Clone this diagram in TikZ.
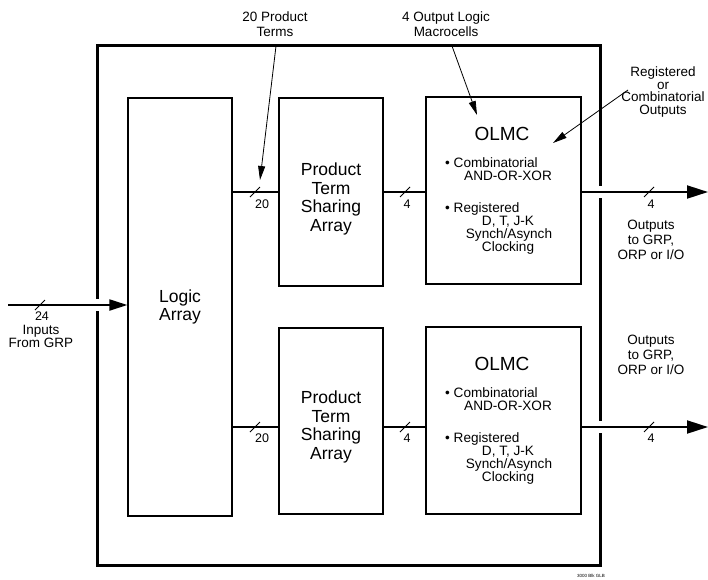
\documentclass[tikz,border=0pt]{standalone}
\usepackage{fontspec}
\setmainfont{Liberation Sans}
\usetikzlibrary{arrows.meta}
\begin{document}
\begin{tikzpicture}[x=1pt,y=-1pt,
  box/.style={draw, line width=1.3pt, inner sep=0pt},
  outer/.style={draw, line width=3pt},
  bus/.style={line width=2pt},
  busarrow/.style={bus, -{Triangle[length=21pt,width=13pt]}},
  inarrow/.style={bus, -{Triangle[length=18pt,width=11pt]}},
  ptr/.style={line width=0.8pt, -{Triangle[length=14pt,width=7pt]}},
  slash/.style={line width=0.9pt},
  lbl/.style={font=\fontsize{13.5}{15}\selectfont, align=center, inner sep=0pt},
  big/.style={font=\fontsize{17.5}{18.5}\selectfont, align=center, inner sep=0pt},
  title/.style={font=\fontsize{19}{20}\selectfont, inner sep=0pt},
  body/.style={font=\fontsize{13.6}{13}\selectfont, inner sep=0pt},
  num/.style={font=\fontsize{12.5}{13}\selectfont, inner sep=0pt}
]
\useasboundingbox (0,0) rectangle (708,579);

% outer frame
\draw[outer] (97,45) rectangle (600,565);
\fill[white] (94,299) rectangle (100,311);
\fill[white] (597,186) rectangle (603,198);
\fill[white] (597,421) rectangle (603,433);

% blocks
\node[box, minimum width=104pt, minimum height=418pt, big] (la) at (180,307) {Logic\\Array};
\node[box, minimum width=104pt, minimum height=188pt] (pt1) at (331,192) {};
\node[box, minimum width=104pt, minimum height=186pt] (pt2) at (331,421) {};
\node[big] (pt1t) at (331,199) {Product\\Term\\Sharing\\Array};
\node[big] (pt2t) at (331,427) {Product\\Term\\Sharing\\Array};
\node[box, minimum width=155pt, minimum height=187pt] (ol1) at (503.5,190.5) {};
\node[box, minimum width=155pt, minimum height=187pt] (ol2) at (503.5,420.5) {};

% OLMC texts (top)
\node[title, anchor=base] (o1n) at (502,140) {OLMC};
\node[body, anchor=base west] (o1a) at (445,167) {\textbullet\ Combinatorial};
\node[body, anchor=base] (o1b) at (508,180) {AND-OR-XOR};
\node[body, anchor=base west] (o1c) at (445,212) {\textbullet\ Registered};
\node[body, anchor=base] (o1d) at (508,225) {D, T, J-K};
\node[body, anchor=base] (o1e) at (509,238) {Synch/Asynch};
\node[body, anchor=base] (o1f) at (508,251) {Clocking};
% OLMC texts (bottom)
\node[title, anchor=base] (o2n) at (502,370) {OLMC};
\node[body, anchor=base west] (o2a) at (445,397) {\textbullet\ Combinatorial};
\node[body, anchor=base] (o2b) at (508,410) {AND-OR-XOR};
\node[body, anchor=base west] (o2c) at (445,442) {\textbullet\ Registered};
\node[body, anchor=base] (o2d) at (508,455) {D, T, J-K};
\node[body, anchor=base] (o2e) at (509,468) {Synch/Asynch};
\node[body, anchor=base] (o2f) at (508,481) {Clocking};

% coordinates
\coordinate (yb) at (0,427);
\coordinate (in) at (8,305);
\coordinate (out1) at (708,192);
\coordinate (out2) at (708,427);

% buses
\draw[inarrow] (in) -- (la.west |- in);
\draw[bus] (la.east |- pt1.west) -- (pt1.west);
\draw[bus] (pt1.east) -- (ol1.west |- pt1.east);
\draw[busarrow] (ol1.east |- out1) -- (out1);
\draw[bus] (la.east |- yb) -- (pt2.west |- yb);
\draw[bus] (pt2.east |- yb) -- (ol2.west |- yb);
\draw[busarrow] (ol2.east |- yb) -- (out2);

% bus slashes
\foreach \x/\y in {40/305, 255/192, 405/192, 649/192, 255/427, 405/427, 649/427}
  \draw[slash, shift={(\x,\y)}] (-5,5) -- (5,-5);

% bus widths
\node[num] (n24) at (42,316) {24};
\node[num] (n20a) at (262,204) {20};
\node[num] (n4a) at (407,204) {4};
\node[num] (n4b) at (651,204) {4};
\node[num] (n20b) at (262,438) {20};
\node[num] (n4c) at (407,438) {4};
\node[num] (n4d) at (651,438) {4};

% labels
\node[lbl, font=\fontsize{13.5}{13.5}\selectfont, anchor=north] (inl) at (41,325) {Inputs\\From GRP};
\node[lbl, anchor=north] (outl1) at (651,220) {Outputs\\to GRP,\\ORP or I/O};
\node[lbl, anchor=north] (outl2) at (651,335) {Outputs\\to GRP,\\ORP or I/O};
\node[lbl, anchor=north] (t20) at (275,12) {20 Product\\Terms};
\node[lbl, anchor=north] (t4) at (446,12) {4 Output Logic\\Macrocells};
\node[lbl, font=\fontsize{13.5}{12.5}\selectfont, anchor=north] (treg) at (663,67) {Registered\\or\\Combinatorial\\Outputs};

% pointer arrows
\coordinate (p20s) at (276,46);
\coordinate (p20e) at (260,180);
\coordinate (p4s) at (452,46);
\coordinate (p4e) at (477,115);
\coordinate (prs) at (628,90);
\coordinate (pre) at (553,143);
\draw[ptr] (p20s) -- (p20e);
\draw[ptr] (p4s) -- (p4e);
\draw[ptr] (prs) -- (pre);

% figure tag
\node[font=\fontsize{4.5}{5}\selectfont, inner sep=0pt] (tag) at (591,576) {3000 Blk GLB};
\end{tikzpicture}
\end{document}
